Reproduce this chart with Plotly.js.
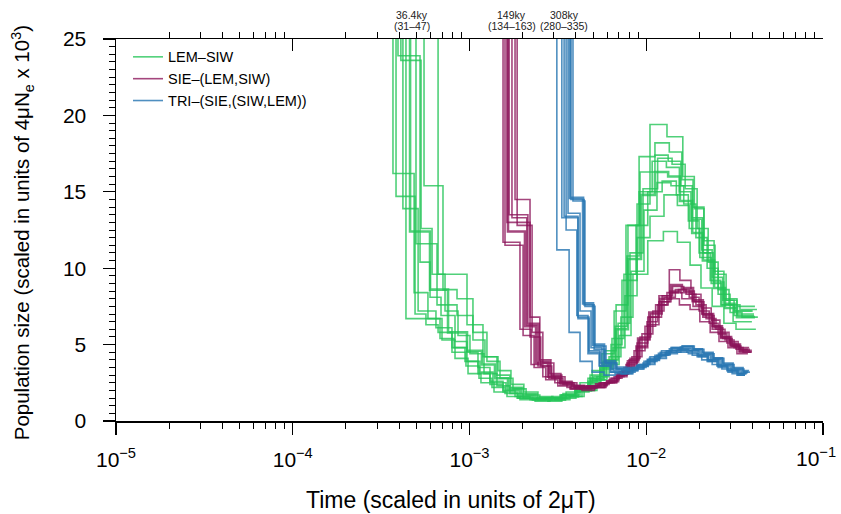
<!DOCTYPE html>
<html><head><meta charset="utf-8">
<script src="https://cdn.plot.ly/plotly-3.0.1.min.js"></script>
<style>html,body{margin:0;padding:0;background:#fff}#chart{width:841px;height:514px}</style>
</head><body><div id="chart"></div>
<script>
const seriesNames = ["LEM–SIW", "SIE–(LEM,SIW)", "TRI–(SIE,(SIW,LEM))"];

const lemSiwTimes = [
 [2.92e-4,3.94e-4,5.25e-4,5.98e-4,6.90e-4,8.28e-4,9.68e-4,1.117e-3,1.306e-3,1.548e-3,1.81e-3,2.20e-3,2.67e-3,3.25e-3,3.95e-3,4.68e-3,5.47e-3,6.32e-3,7.29e-3,8.87e-3,1.05e-2,1.31e-2,1.61e-2,1.87e-2,2.12e-2,2.42e-2,2.75e-2,3.26e-2,4.12e-2],
 [2.92e-4,4.09e-4,5.32e-4,6.14e-4,7.27e-4,8.61e-4,1.006e-3,1.208e-3,1.430e-3,1.694e-3,2.01e-3,2.44e-3,2.92e-3,3.52e-3,4.22e-3,4.94e-3,5.77e-3,6.75e-3,7.88e-3,9.22e-3,1.12e-2,1.33e-2,1.57e-2,1.82e-2,2.09e-2,2.39e-2,2.75e-2,3.18e-2,4.01e-2],
 [2.74e-4,3.69e-4,4.86e-4,5.82e-4,6.99e-4,8.28e-4,9.81e-4,1.161e-3,1.376e-3,1.630e-3,1.93e-3,2.35e-3,2.85e-3,3.38e-3,4.05e-3,4.81e-3,5.61e-3,6.58e-3,7.68e-3,9.11e-3,1.12e-2,1.35e-2,1.59e-2,1.84e-2,2.12e-2,2.45e-2,2.83e-2,3.26e-2,4.07e-2],
 [2.81e-4,3.84e-4,4.92e-4,5.67e-4,6.64e-4,7.96e-4,9.43e-4,1.117e-3,1.306e-3,1.548e-3,1.86e-3,2.26e-3,2.74e-3,3.29e-3,3.95e-3,4.68e-3,5.47e-3,6.40e-3,7.48e-3,8.75e-3,1.02e-2,1.23e-2,1.48e-2,1.73e-2,1.99e-2,2.30e-2,2.64e-2,3.10e-2,3.96e-2],
 [3.33e-4,4.61e-4,5.98e-4,7.56e-4,9.68e-4,1.176e-3,1.394e-3,1.651e-3,1.955e-3,2.35e-3,2.85e-3,3.47e-3,4.11e-3,4.87e-3,5.77e-3,6.75e-3,7.88e-3,9.34e-3,1.12e-2,1.33e-2,1.55e-2,1.82e-2,2.09e-2,2.42e-2,2.79e-2,3.26e-2,4.12e-2],
 [4.04e-4,5.53e-4,7.08e-4,8.50e-4,1.046e-3,1.255e-3,1.488e-3,1.762e-3,2.09e-3,2.50e-3,3.04e-3,3.70e-3,4.45e-3,5.26e-3,6.16e-3,7.19e-3,8.41e-3,1.02e-2,1.25e-2,1.50e-2,1.77e-2,2.04e-2,2.36e-2,2.75e-2,3.22e-2,4.17e-2],
 [4.92e-4,6.64e-4,9.68e-4,1.192e-3,1.430e-3,1.694e-3,2.01e-3,2.41e-3,2.92e-3,3.52e-3,4.22e-3,5.00e-3,5.92e-3,6.93e-3,8.09e-3,9.59e-3,1.16e-2,1.40e-2,1.66e-2,1.94e-2,2.24e-2,2.55e-2,2.94e-2,3.39e-2,4.23e-2],
 [3.12e-4,4.37e-4,6.81e-4,8.18e-4,9.68e-4,1.146e-3,1.358e-3,1.609e-3,1.908e-3,2.29e-3,2.78e-3,3.33e-3,4.00e-3,4.74e-3,5.54e-3,6.49e-3,7.58e-3,8.87e-3,1.05e-2,1.26e-2,1.50e-2,1.75e-2,2.01e-2,2.33e-2,2.68e-2,3.14e-2,4.07e-2],
 [3.64e-4,4.98e-4,6.55e-4,8.50e-4,1.046e-3,1.223e-3,1.450e-3,1.716e-3,2.03e-3,2.44e-3,2.96e-3,3.61e-3,4.33e-3,5.13e-3,5.99e-3,7.02e-3,8.20e-3,9.71e-3,1.15e-2,1.38e-2,1.63e-2,1.91e-2,2.21e-2,2.55e-2,2.98e-2,3.48e-2,4.28e-2],
 [3.12e-4,4.20e-4,5.12e-4,6.46e-4,7.96e-4,9.55e-4,1.132e-3,1.340e-3,1.588e-3,1.88e-3,2.29e-3,2.78e-3,3.33e-3,4.00e-3,4.81e-3,5.69e-3,6.66e-3,7.78e-3,9.11e-3,1.08e-2,1.30e-2,1.54e-2,1.79e-2,2.06e-2,2.36e-2,2.71e-2,3.14e-2,3.96e-2]
];
const lemSiwSizes = [
 [60,23.9,10.4,8.1,6.9,5.2,4.5,3.5,2.6,2.0,1.6,1.4,1.5,1.7,2.1,2.8,3.6,5.0,9.2,14.2,19.4,18.6,16.0,13.9,11.8,9.8,8.0,7.5,7.5],
 [60,23.6,12.6,9.6,7.2,5.6,4.4,3.1,2.3,1.8,1.5,1.4,1.6,1.9,2.5,3.3,4.6,7.6,12.8,16.3,17.4,17.0,15.4,13.3,11.0,9.1,7.7,7.2,7.2],
 [60,16.2,8.4,6.7,5.3,4.1,3.1,2.5,1.9,1.6,1.4,1.3,1.5,1.8,2.2,3.0,4.4,7.2,12.8,17.3,18.2,17.6,15.8,14.0,11.5,9.6,7.9,7.0,7.0],
 [60,14.7,7.0,6.3,5.8,4.8,3.9,3.1,2.4,1.9,1.5,1.4,1.4,1.7,2.0,2.6,3.5,5.4,9.6,12.8,15.0,15.7,14.8,13.1,11.0,9.2,7.6,6.5,6.5],
 [60,12.4,8.6,5.8,4.6,3.7,2.8,2.1,1.7,1.5,1.4,1.6,2.0,2.7,3.8,6.0,10.6,14.8,16.3,16.0,14.4,12.3,10.5,8.7,7.4,6.8,6.8],
 [60,15.4,8.6,8.0,5.8,3.9,2.8,2.1,1.7,1.5,1.4,1.6,2.0,2.9,4.2,6.8,9.6,11.8,12.4,11.7,10.2,8.7,7.5,6.4,6.0,6.0],
 [60,9.6,6.3,4.2,3.0,2.2,1.8,1.5,1.5,1.7,2.2,2.9,4.0,6.4,11.0,15.2,17.2,16.8,15.2,12.6,10.4,8.6,7.6,7.3,7.3],
 [60,6.7,5.4,4.8,3.9,3.2,2.5,2.0,1.6,1.4,1.3,1.5,1.9,2.5,3.4,4.8,8.2,12.0,13.4,14.8,14.1,12.6,10.7,9.0,7.6,6.9,6.9],
 [60,11.6,7.6,6.9,5.3,4.2,3.3,2.4,1.9,1.6,1.5,1.6,2.0,2.7,3.7,5.6,9.8,13.8,15.6,15.4,14.2,12.0,10.0,8.3,7.1,6.8,6.8],
 [60,13.9,7.2,6.1,4.5,3.6,2.8,2.2,1.8,1.5,1.4,1.5,1.7,2.1,2.8,3.9,6.2,10.8,15.0,17.0,16.6,15.0,13.2,11.2,9.4,7.9,7.2,7.2]
];

const sieTimes = [
 [1.146e-3,1.548e-3,1.93e-3,2.23e-3,2.60e-3,3.04e-3,3.56e-3,4.22e-3,4.94e-3,5.77e-3,6.58e-3,7.48e-3,8.53e-3,9.84e-3,1.13e-2,1.31e-2,1.52e-2,1.75e-2,1.99e-2,2.27e-2,2.55e-2,2.86e-2,3.22e-2,3.76e-2],
 [1.146e-3,1.630e-3,2.20e-3,2.53e-3,2.92e-3,3.38e-3,3.95e-3,4.62e-3,5.41e-3,6.24e-3,7.10e-3,8.09e-3,9.22e-3,1.06e-2,1.23e-2,1.41e-2,1.63e-2,1.87e-2,2.12e-2,2.42e-2,2.71e-2,3.06e-2,3.43e-2,3.86e-2],
 [1.223e-3,1.674e-3,2.14e-3,2.48e-3,2.85e-3,3.29e-3,3.80e-3,4.45e-3,5.20e-3,5.99e-3,6.83e-3,7.78e-3,8.87e-3,1.02e-2,1.18e-2,1.35e-2,1.55e-2,1.79e-2,2.04e-2,2.33e-2,2.61e-2,2.94e-2,3.31e-2,3.82e-2],
 [1.306e-3,1.81e-3,2.20e-3,2.50e-3,2.89e-3,3.33e-3,3.90e-3,4.56e-3,5.33e-3,6.16e-3,7.02e-3,7.99e-3,9.11e-3,1.05e-2,1.22e-2,1.38e-2,1.59e-2,1.84e-2,2.09e-2,2.36e-2,2.64e-2,2.98e-2,3.35e-2,3.91e-2],
 [1.146e-3,1.588e-3,2.01e-3,2.32e-3,2.70e-3,3.16e-3,3.70e-3,4.33e-3,5.07e-3,5.84e-3,6.75e-3,7.68e-3,8.75e-3,1.01e-2,1.16e-2,1.33e-2,1.54e-2,1.77e-2,2.01e-2,2.30e-2,2.58e-2,2.90e-2,3.26e-2,3.76e-2],
 [1.192e-3,1.651e-3,2.06e-3,2.38e-3,2.78e-3,3.25e-3,3.80e-3,4.45e-3,5.20e-3,5.99e-3,6.93e-3,7.88e-3,8.99e-3,1.04e-2,1.20e-2,1.38e-2,1.59e-2,1.84e-2,2.09e-2,2.39e-2,2.68e-2,3.02e-2,3.39e-2,3.96e-2],
 [1.255e-3,1.739e-3,2.11e-3,2.44e-3,2.81e-3,3.25e-3,3.75e-3,4.39e-3,5.13e-3,5.92e-3,6.83e-3,7.78e-3,8.87e-3,1.02e-2,1.18e-2,1.36e-2,1.57e-2,1.82e-2,2.06e-2,2.36e-2,2.64e-2,2.98e-2,3.35e-2,3.86e-2],
 [1.340e-3,1.86e-3,2.26e-3,2.60e-3,3.00e-3,3.47e-3,4.05e-3,4.74e-3,5.54e-3,6.40e-3,7.29e-3,8.30e-3,9.46e-3,1.09e-2,1.26e-2,1.46e-2,1.68e-2,1.91e-2,2.18e-2,2.48e-2,2.79e-2,3.14e-2,3.53e-2,3.96e-2]
];
const sieSizes = [
 [60,11.7,6.0,3.7,2.9,2.5,2.2,2.1,2.2,2.5,2.9,3.5,4.6,6.2,7.6,8.4,8.6,8.1,7.2,6.4,5.7,5.1,4.7,4.7],
 [60,13.0,5.5,3.6,2.8,2.4,2.2,2.3,2.5,2.8,3.2,4.1,5.5,7.0,8.2,8.8,8.5,7.8,6.9,6.1,5.4,4.9,4.6,4.6],
 [60,13.5,6.4,3.9,3.1,2.6,2.3,2.2,2.3,2.6,3.0,3.8,5.1,6.8,8.2,9.9,9.2,8.3,7.4,6.6,5.8,5.2,4.8,4.8],
 [60,14.5,6.8,4.0,3.0,2.5,2.2,2.2,2.4,2.7,3.2,4.0,5.3,6.8,7.8,8.4,8.0,7.5,6.8,6.0,5.4,4.9,4.5,4.5],
 [60,11.5,5.6,3.5,2.7,2.3,2.1,2.0,2.2,2.5,3.0,3.7,4.9,6.5,7.6,8.0,7.6,7.3,6.5,5.8,5.2,4.8,4.4,4.4],
 [60,12.4,6.2,3.8,2.9,2.5,2.3,2.2,2.4,2.6,3.1,3.9,5.4,7.1,8.0,8.9,8.7,7.9,7.0,6.2,5.5,5.0,4.6,4.6],
 [60,13.3,6.3,3.6,2.8,2.4,2.1,2.1,2.2,2.5,2.9,3.6,4.8,6.3,7.8,8.5,8.4,7.8,7.0,6.2,5.5,5.0,4.7,4.7],
 [60,12.8,5.8,3.8,2.9,2.5,2.3,2.3,2.5,2.8,3.3,4.2,5.7,7.2,8.1,8.6,8.3,7.6,6.7,6.0,5.3,4.8,4.5,4.5]
];

const triTimes = [
 [2.35e-3,3.12e-3,3.66e-3,4.22e-3,4.94e-3,5.77e-3,6.66e-3,7.68e-3,8.87e-3,1.02e-2,1.18e-2,1.36e-2,1.57e-2,1.82e-2,2.06e-2,2.36e-2,2.68e-2,3.06e-2,3.57e-2],
 [2.50e-3,3.43e-3,4.11e-3,4.74e-3,5.47e-3,6.32e-3,7.29e-3,8.41e-3,9.71e-3,1.12e-2,1.30e-2,1.50e-2,1.73e-2,1.97e-2,2.24e-2,2.55e-2,2.90e-2,3.31e-2,3.67e-2],
 [2.57e-3,3.52e-3,4.05e-3,4.68e-3,5.41e-3,6.24e-3,7.19e-3,8.30e-3,9.59e-3,1.11e-2,1.28e-2,1.48e-2,1.70e-2,1.94e-2,2.21e-2,2.51e-2,2.86e-2,3.26e-2,3.62e-2],
 [2.67e-3,3.70e-3,4.39e-3,5.00e-3,5.77e-3,6.66e-3,7.68e-3,8.87e-3,1.02e-2,1.18e-2,1.36e-2,1.57e-2,1.82e-2,2.06e-2,2.36e-2,2.68e-2,3.06e-2,3.48e-2,3.76e-2],
 [2.67e-3,3.61e-3,4.22e-3,4.87e-3,5.61e-3,6.49e-3,7.48e-3,8.64e-3,9.97e-3,1.15e-2,1.33e-2,1.54e-2,1.77e-2,2.01e-2,2.30e-2,2.61e-2,2.98e-2,3.39e-2,3.71e-2],
 [2.74e-3,3.75e-3,4.45e-3,5.07e-3,5.84e-3,6.75e-3,7.78e-3,8.99e-3,1.04e-2,1.20e-2,1.38e-2,1.59e-2,1.84e-2,2.09e-2,2.39e-2,2.71e-2,3.10e-2,3.53e-2,3.82e-2],
 [2.50e-3,3.33e-3,4.11e-3,4.74e-3,5.47e-3,6.32e-3,7.29e-3,8.41e-3,9.71e-3,1.12e-2,1.30e-2,1.50e-2,1.73e-2,1.97e-2,2.24e-2,2.55e-2,2.90e-2,3.31e-2,3.62e-2],
 [2.78e-3,3.85e-3,4.50e-3,5.13e-3,5.92e-3,6.83e-3,7.88e-3,9.11e-3,1.05e-2,1.22e-2,1.40e-2,1.61e-2,1.87e-2,2.12e-2,2.42e-2,2.75e-2,3.14e-2,3.57e-2,3.86e-2]
];
const triSizes = [
 [60,11.2,5.8,3.9,3.2,3.0,3.1,3.3,3.6,4.0,4.3,4.5,4.6,4.3,4.0,3.7,3.4,3.1,3.1],
 [60,13.4,6.8,4.6,3.8,3.4,3.3,3.5,3.9,4.3,4.6,4.7,4.6,4.3,4.0,3.6,3.3,3.1,3.1],
 [60,12.5,6.9,4.4,3.6,3.2,3.1,3.4,3.8,4.2,4.5,4.6,4.5,4.2,3.9,3.6,3.3,3.0,3.0],
 [60,14.6,7.7,5.0,3.9,3.5,3.4,3.6,4.0,4.4,4.7,4.8,4.7,4.4,4.1,3.7,3.4,3.2,3.2],
 [60,13.6,7.2,4.8,3.7,3.3,3.2,3.5,3.9,4.3,4.6,4.7,4.6,4.3,4.0,3.6,3.3,3.1,3.1],
 [60,14.5,7.6,4.7,3.8,3.4,3.3,3.7,4.1,4.5,4.8,4.9,4.7,4.5,4.1,3.8,3.5,3.3,3.3],
 [60,13.3,6.7,4.5,3.6,3.2,3.1,3.4,3.7,4.1,4.4,4.5,4.4,4.2,3.9,3.5,3.2,3.0,3.0],
 [60,14.4,7.5,4.9,3.8,3.4,3.5,3.7,4.2,4.6,4.8,4.9,4.7,4.4,4.1,3.7,3.4,3.2,3.2]
];

const splitTimes = [4.73e-4, 1.73e-3, 3.43e-3];
const splitLabels = ["36.4ky", "149ky", "308ky"];
const splitRanges = ["(31–47)", "(134–163)", "(280–335)"];

const xTitle = "Time (scaled in units of 2μT)";
const yTitle = "Population size (scaled in units of 4μN<sub>e</sub> x 10<sup>3</sup>)";
const xMajorTicks = [1e-5, 1e-4, 1e-3, 1e-2, 1e-1];
const xMajorLabels = ["10<sup>−5</sup>", "10<sup>−4</sup>", "10<sup>−3</sup>", "10<sup>−2</sup>", ""];
const xEdgeLabel = "10<sup>−1</sup>";   // last tick label, placed so it stays inside the page
const xMinorTicks = [2e-5,3e-5,4e-5,5e-5,6e-5,7e-5,8e-5,9e-5,2e-4,3e-4,4e-4,5e-4,6e-4,7e-4,8e-4,9e-4,2e-3,3e-3,4e-3,5e-3,6e-3,7e-3,8e-3,9e-3,2e-2,3e-2,4e-2,5e-2,6e-2,7e-2,8e-2,9e-2];
const yTicks = [0, 5, 10, 15, 20, 25];

const colors = ["rgba(36,196,88,0.8)", "rgba(138,18,88,0.78)", "rgba(40,118,178,0.82)"];
const mainIdx = [4, 5, 3];

const groups = [[lemSiwTimes, lemSiwSizes], [sieTimes, sieSizes], [triTimes, triSizes]];
const traces = [];
groups.forEach(function (g, gi) {
  g[0].forEach(function (t, i) {
    traces.push({
      type: 'scatter', mode: 'lines', x: t, y: g[1][i],
      line: {shape: 'hv', color: colors[gi], width: i === mainIdx[gi] ? 2.6 : 1.6},
      name: seriesNames[gi], legendgroup: 'g' + gi, showlegend: i === 0,
      hoverinfo: 'skip'
    });
  });
});
// holder so the top axis is drawn (no marks)
traces.push({type: 'scatter', mode: 'lines', x: [], y: [], xaxis: 'x2', yaxis: 'y', showlegend: false, hoverinfo: 'skip'});

const FONT = 'Liberation Sans, Arial, Helvetica, sans-serif';
const annotations = [];
splitTimes.forEach(function (t, i) {
  annotations.push({x: Math.log10(t), xref: 'x', y: 1, yref: 'paper', yanchor: 'middle', yshift: 24, text: splitLabels[i], showarrow: false, font: {size: 10.5, color: '#222', family: FONT}});
  annotations.push({x: Math.log10(t), xref: 'x', y: 1, yref: 'paper', yanchor: 'middle', yshift: 13, text: splitRanges[i], showarrow: false, font: {size: 10.5, color: '#222', family: FONT}});
});
annotations.push({x: Math.log10(xMajorTicks[4]), xref: 'x', y: 0, yref: 'paper', xanchor: 'right', yanchor: 'top', xshift: 15, yshift: -21, text: xEdgeLabel, showarrow: false, font: {size: 21, family: FONT, color: 'black'}});
annotations.push({x: 0.474, xref: 'paper', y: -0.207, yref: 'paper', xanchor: 'center', yanchor: 'middle', text: xTitle, showarrow: false, font: {size: 23, family: FONT, color: 'black'}});
annotations.push({x: -0.133, xref: 'paper', y: 0.494, yref: 'paper', xanchor: 'center', yanchor: 'middle', textangle: -90, text: yTitle, showarrow: false, font: {size: 20.5, family: FONT, color: 'black'}});

const layout = {
  width: 841, height: 514,
  margin: {l: 116, r: 18, t: 39, b: 93},
  paper_bgcolor: 'white', plot_bgcolor: 'white',
  font: {family: FONT, color: 'black'},
  showlegend: true,
  legend: {x: 0.017, y: 0.995, xanchor: 'left', yanchor: 'top', font: {size: 14.5, family: FONT}, bgcolor: 'rgba(0,0,0,0)', tracegroupgap: 0},
  xaxis: {
    type: 'log', range: [-5, -1], showline: true, linecolor: 'black', linewidth: 1.5,
    ticks: 'outside', ticklen: 12, tickwidth: 1.3, tickcolor: 'black',
    tickmode: 'array', tickvals: xMajorTicks, ticktext: xMajorLabels,
    tickfont: {size: 21, family: FONT}, ticklabelstandoff: 7,
    minor: {tickmode: 'array', tickvals: xMinorTicks, ticklen: 6, tickwidth: 1, tickcolor: 'black', showgrid: false},
    showgrid: false, zeroline: false, automargin: false
  },
  xaxis2: {
    type: 'log', range: [-5, -1], overlaying: 'x', side: 'top', anchor: 'y',
    showline: true, linecolor: 'black', linewidth: 1.5,
    ticks: 'inside', ticklen: 12, tickwidth: 1.3, tickcolor: 'black',
    tickmode: 'array', tickvals: xMajorTicks, showticklabels: false,
    minor: {tickmode: 'array', tickvals: xMinorTicks, ticklen: 6, tickwidth: 1, tickcolor: 'black', showgrid: false},
    showgrid: false, zeroline: false
  },
  yaxis: {
    range: [0, 25], showline: true, linecolor: 'black', linewidth: 1.5,
    ticks: 'outside', ticklen: 12, tickwidth: 1.3, tickcolor: 'black',
    tickmode: 'array', tickvals: yTicks,
    tickfont: {size: 21, family: FONT}, ticklabelstandoff: 12,
    minor: {dtick: 0.5, ticklen: 6, tickwidth: 1, tickcolor: 'black', showgrid: false},
    showgrid: false, zeroline: false, automargin: false
  },
  annotations: annotations
};

Plotly.newPlot('chart', traces, layout, {staticPlot: true, displayModeBar: false});
</script>
</body></html>
